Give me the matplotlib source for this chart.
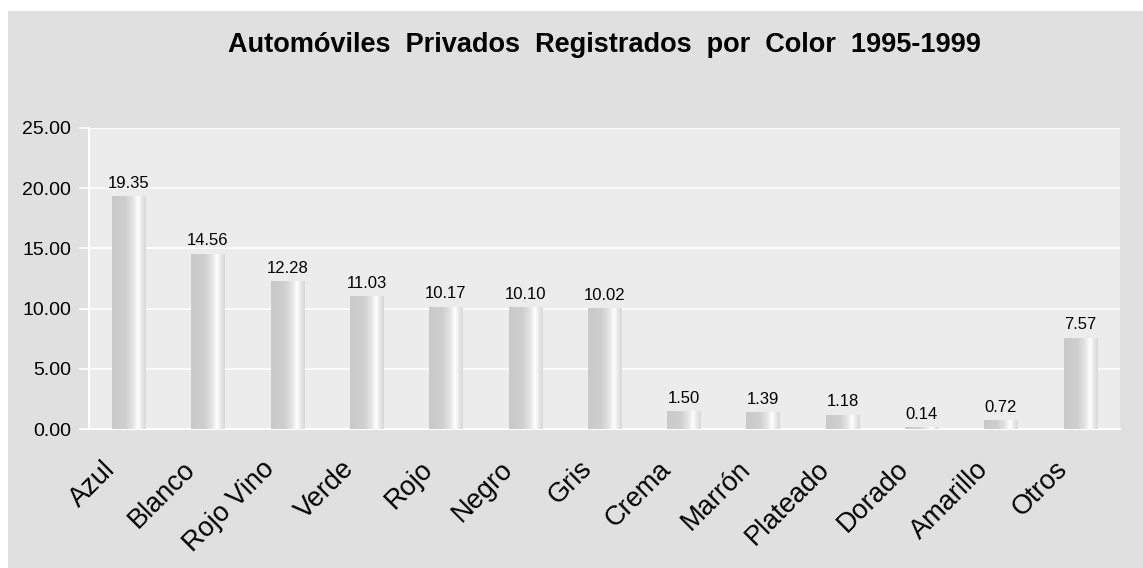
import numpy as np
import matplotlib
matplotlib.use("Agg")
import matplotlib.pyplot as plt
import matplotlib.transforms as mtransforms
from matplotlib.patches import Rectangle
from matplotlib.colors import LinearSegmentedColormap

plt.rcParams["font.family"] = ["Liberation Sans", "DejaVu Sans"]

# ---------------------------------------------------------------------------
# Data
# ---------------------------------------------------------------------------
colores = ["Azul", "Blanco", "Rojo Vino", "Verde", "Rojo", "Negro", "Gris",
           "Crema", "Marrón", "Plateado", "Dorado", "Amarillo", "Otros"]
porcentajes = [19.35, 14.56, 12.28, 11.03, 10.17, 10.10, 10.02,
               1.50, 1.39, 1.18, 0.14, 0.72, 7.57]
y_ticks = [0, 5, 10, 15, 20, 25]

titulo = "Automóviles  Privados  Registrados  por  Color  1995-1999"

# ---------------------------------------------------------------------------
# Figure
# ---------------------------------------------------------------------------
W, H = 1143, 568
fig = plt.figure(figsize=(W / 100, H / 100), dpi=100)
fig.patch.set_facecolor("white")

# gray chart area (behind the axes)
fig.patches.append(Rectangle((8 / W, 0), 1 - 8 / W, 1 - 11 / H,
                             transform=fig.transFigure,
                             facecolor="#e0e0e0", edgecolor="none", zorder=-5))

ax = fig.add_axes([89 / W, (H - 429) / H, (1120 - 89) / W, (429 - 128) / H])
ax.set_zorder(1)
ax.set_facecolor("#ececec")

x = np.arange(len(colores))
bars = ax.bar(x, porcentajes, width=0.42, color="#cccccc", zorder=2)

# horizontal gradient inside each bar
grad_cmap = LinearSegmentedColormap.from_list(
    "bar", [(0.0, "#c9c9c9"), (0.4, "#cfcfcf"), (0.62, "#e4e4e4"),
            (0.77, "#ffffff"), (0.88, "#e8e8e8"), (1.0, "#d8d8d8")])
grad = np.linspace(0, 1, 256).reshape(1, -1)
for b in bars:
    x0, y0 = b.get_x(), b.get_y()
    im = ax.imshow(grad, cmap=grad_cmap, aspect="auto", zorder=3,
                   extent=[x0, x0 + b.get_width(), y0, y0 + b.get_height()])
    im.set_clip_path(b)

for xi, v in zip(x, porcentajes):
    ax.text(xi, v + 0.45, f"{v:.2f}", ha="center", va="bottom",
            fontsize=12, color="black", zorder=4)

ax.set_xlim(-0.5, len(colores) - 0.5)
ax.set_ylim(0, 25)
ax.set_yticks(y_ticks)
ax.set_yticklabels([f"{t:.2f}" for t in y_ticks], fontsize=14)
ax.yaxis.grid(True, color="white", linewidth=1.2, zorder=1)
ax.set_axisbelow(True)

# category labels, rotated, ending a bit left of and below each bar
ax.set_xticks(x)
ax.set_xticklabels([])
ax.tick_params(axis="x", length=0)
ax.tick_params(axis="y", length=7, color="white", width=1.2, pad=6)
lbl_tr = ax.get_xaxis_transform() + mtransforms.ScaledTranslation(
    -26 / 100, -27 / 100, fig.dpi_scale_trans)
for xi, name in zip(x, colores):
    ax.text(xi, 0, name, transform=lbl_tr, rotation=45, ha="right", va="top",
            rotation_mode="anchor", fontsize=19.5, clip_on=False)

for side in ["top", "right"]:
    ax.spines[side].set_visible(False)
for side in ["left", "bottom"]:
    ax.spines[side].set_color("white")
    ax.spines[side].set_linewidth(1.5)

fig.text((89 + 1120) / 2 / W, 1 - 45 / H, titulo, ha="center", va="center",
         fontsize=19.5, fontweight="bold", color="black")

fig.savefig("out.png", dpi=100, facecolor=fig.get_facecolor())
